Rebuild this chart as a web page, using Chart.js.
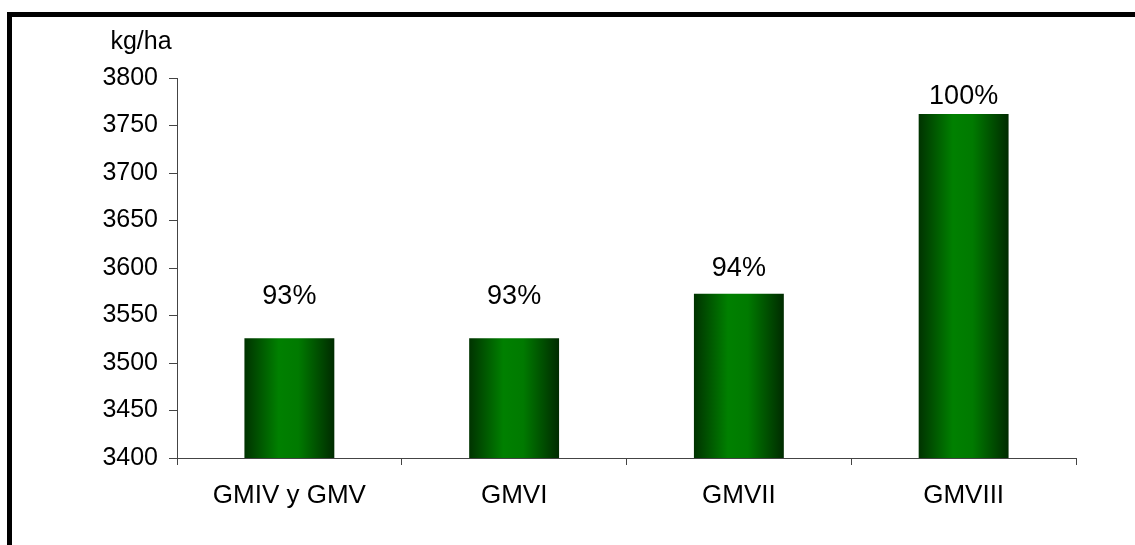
<!DOCTYPE html>
<html>
<head>
<meta charset="utf-8">
<script src="https://cdn.jsdelivr.net/npm/chart.js@4.4.0/dist/chart.umd.min.js"></script>
<style>
  html, body { margin: 0; padding: 0; background: #fff; overflow: hidden; }
  #frame {
    position: absolute; left: 7px; top: 12px; width: 1160px; height: 600px;
    border: 5px solid #000; box-sizing: border-box;
  }
  #wrap { position: absolute; left: 0; top: 0; width: 1135px; height: 545px; }
</style>
</head>
<body>
<div id="frame"></div>
<div id="wrap"><canvas id="yield"></canvas></div>
<script>
// data
const groups = ["GMIV y GMV", "GMVI", "GMVII", "GMVIII"];
const yieldKgHa = [3526, 3526, 3573, 3762];
const pctLabels = ["93%", "93%", "94%", "100%"];
// where the percent label sits, in kg/ha units
const pctLabelAt = [3570, 3570, 3599, 3781];
const yTicks = [3400, 3450, 3500, 3550, 3600, 3650, 3700, 3750, 3800];

const FONT = "'Liberation Sans', Arial, sans-serif";
const axisColor = "#444";
const barPct = 0.4;

// horizontal shading on each bar, dark edges and bright middle
function barShade(c) {
  const xs = c.chart.scales.x;
  if (!xs || !xs.width) return "#008000";
  const cx = xs.getPixelForValue(c.dataIndex);
  const w = xs.width / groups.length * barPct;
  const g = c.chart.ctx.createLinearGradient(cx - w / 2, 0, cx + w / 2, 0);
  g.addColorStop(0, "#003300");
  g.addColorStop(0.38, "#008000");
  g.addColorStop(0.6, "#007a00");
  g.addColorStop(1, "#002b00");
  return g;
}

const extraText = {
  id: "extraText",
  afterDraw(chart) {
    const ctx = chart.ctx;
    const y = chart.scales.y;
    ctx.save();
    ctx.fillStyle = "#000";
    ctx.textAlign = "center";
    ctx.textBaseline = "middle";
    ctx.font = "27px " + FONT;
    chart.getDatasetMeta(0).data.forEach((bar, i) => {
      ctx.fillText(pctLabels[i], bar.x, y.getPixelForValue(pctLabelAt[i]));
    });
    ctx.font = "25px " + FONT;
    ctx.fillText("kg/ha", 141, 42);
    ctx.restore();
  }
};

new Chart(document.getElementById("yield"), {
  type: "bar",
  data: {
    labels: groups,
    datasets: [{
      data: yieldKgHa,
      backgroundColor: barShade,
      borderWidth: 0,
      barPercentage: barPct,
      categoryPercentage: 1.0
    }]
  },
  options: {
    responsive: true,
    maintainAspectRatio: false,
    animation: false,
    events: [],
    layout: { padding: { left: 0, right: 59, top: 78, bottom: 0 } },
    plugins: { legend: { display: false }, tooltip: { enabled: false } },
    scales: {
      x: {
        grid: { drawOnChartArea: false, drawTicks: true, tickLength: 7, color: axisColor, offset: true },
        border: { color: axisColor, width: 1 },
        ticks: { color: "#000", font: { family: FONT, size: 26 }, padding: 15, maxRotation: 0 },
        afterFit(s) { s.height = 87; }
      },
      y: {
        min: 3400, max: 3800,
        afterBuildTicks(s) { s.ticks = yTicks.map(v => ({ value: v })); },
        grid: { drawOnChartArea: false, drawTicks: true, tickLength: 8, color: axisColor },
        border: { color: axisColor, width: 1 },
        ticks: { color: "#000", font: { family: FONT, size: 25 }, padding: 11, callback: v => String(v) },
        afterFit(s) { s.width = 177; }
      }
    }
  },
  plugins: [extraText]
});
</script>
</body>
</html>
